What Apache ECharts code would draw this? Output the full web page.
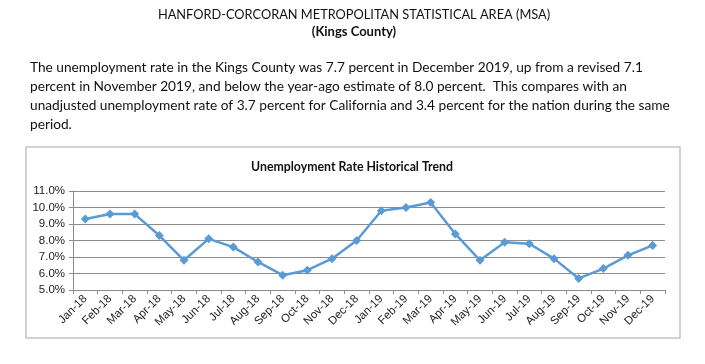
<!DOCTYPE html>
<html>
<head>
<meta charset="utf-8">
<script src="https://cdn.jsdelivr.net/npm/echarts@6/dist/echarts.min.js"></script>
<style>
html,body{margin:0;padding:0;background:#fff;}
#chart{width:705px;height:364px;}
</style>
</head>
<body>
<div id="chart"></div>
<script>
const categories = ['Jan-18','Feb-18','Mar-18','Apr-18','May-18','Jun-18','Jul-18','Aug-18','Sep-18','Oct-18','Nov-18','Dec-18',
  'Jan-19','Feb-19','Mar-19','Apr-19','May-19','Jun-19','Jul-19','Aug-19','Sep-19','Oct-19','Nov-19','Dec-19'];
const rates = [9.3,9.6,9.6,8.3,6.8,8.1,7.6,6.7,5.9,6.2,6.9,8.0,
  9.8,10.0,10.3,8.4,6.8,7.9,7.8,6.9,5.7,6.3,7.1,7.7];
const yTicks = [5,6,7,8,9,10,11];
const headerLines = ['HANFORD-CORCORAN METROPOLITAN STATISTICAL AREA (MSA)', '(Kings County)'];
const paragraphLines = [
  'The unemployment rate in the Kings County was 7.7 percent in December 2019, up from a revised 7.1',
  'percent in November 2019, and below the year-ago estimate of 8.0 percent.  This compares with an',
  'unadjusted unemployment rate of 3.7 percent for California and 3.4 percent for the nation during the same',
  'period.'
];
const chartTitle = 'Unemployment Rate Historical Trend';

const chart = echarts.init(document.getElementById('chart'), null, {renderer:'canvas'});
const textFont = 'Lato, "Open Sans", sans-serif';
const graphics = [
  {type:'rect', shape:{x:26,y:147,width:654,height:191}, style:{fill:'none', stroke:'#c4c4c4', lineWidth:1.5}, z:-1},
  {type:'text', x:354, y:15, style:{text:headerLines[0], font:'12.8px '+textFont, fill:'#111', textAlign:'center', textVerticalAlign:'middle'}},
  {type:'text', x:354, y:32, style:{text:headerLines[1], font:'bold 13px '+textFont, fill:'#111', textAlign:'center', textVerticalAlign:'middle'}}
];
paragraphLines.forEach((t,i)=>{
  graphics.push({type:'text', x:30, y:68+i*19, style:{text:t, font:'13.7px '+textFont, fill:'#111', textAlign:'left', textVerticalAlign:'middle'}});
});
graphics.push({type:'text', x:352, y:167, style:{text:chartTitle, font:'bold 12.3px '+textFont, fill:'#111', textAlign:'center', textVerticalAlign:'middle'}});

chart.setOption({
  animation:false,
  graphic: graphics,
  grid:{left:73, top:191, width:592, height:99, containLabel:false},
  xAxis:{
    type:'category', data:categories, boundaryGap:true,
    axisLine:{show:true, lineStyle:{color:'#8c8c8c', width:1}},
    axisTick:{show:true, length:4, inside:false, lineStyle:{color:'#8c8c8c'}},
    axisLabel:{rotate:45, interval:0, margin:7, color:'#222', fontSize:11.5, fontFamily:'"Liberation Sans", Arial, sans-serif'}
  },
  yAxis:{
    type:'value', min:yTicks[0], max:yTicks[yTicks.length-1], interval:1,
    axisLine:{show:true, lineStyle:{color:'#8c8c8c', width:1}},
    axisTick:{show:true, length:4, lineStyle:{color:'#8c8c8c'}},
    splitLine:{show:true, lineStyle:{color:'#8c8c8c', width:1}},
    axisLabel:{margin:8, color:'#222', fontSize:11.5, fontFamily:'"Liberation Sans", Arial, sans-serif',
      formatter:v=>v.toFixed(1)+'%'}
  },
  series:[{
    type:'line', data:rates, symbol:'diamond', symbolSize:9,
    lineStyle:{color:'#5b9bd5', width:2.5},
    itemStyle:{color:'#5b9bd5'}
  }]
});
</script>
</body>
</html>
